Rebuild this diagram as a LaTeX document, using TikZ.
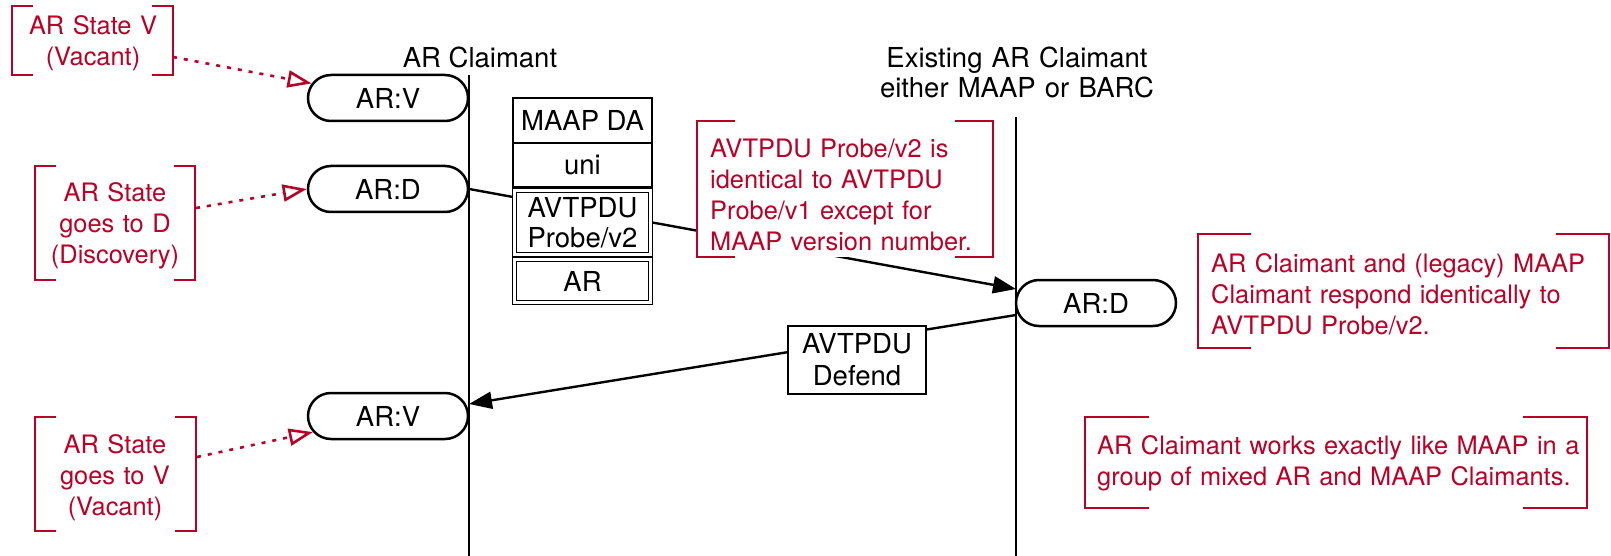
\documentclass[tikz,border=0pt]{standalone}
\usepackage{fontspec}
\setmainfont{TeX Gyre Heros}
\usetikzlibrary{arrows.meta,shapes.misc}
\definecolor{arred}{RGB}{185,0,38}
\newcommand\bfnt{\fontsize{27.5}{30}\selectfont}
\newcommand\dfnt{\fontsize{27.5}{32}\selectfont}
\newcommand\rfnt{\fontsize{25.4}{31}\selectfont}
\newcommand\drawbrk[2]{%
  \draw[brk] ([xshift=#2]#1.north west) -- (#1.north west) -- (#1.south west) -- ([xshift=#2]#1.south west);
  \draw[brk] ([xshift=-#2]#1.north east) -- (#1.north east) -- (#1.south east) -- ([xshift=-#2]#1.south east);}
\tikzset{
  lifeline/.style={line width=2.6pt},
  state/.style={rounded rectangle, draw, line width=2.5pt, fill=white, minimum width=160pt, minimum height=46pt, inner sep=0pt, font=\bfnt},
  pkt/.style={draw, line width=2.4pt, fill=white, minimum width=139pt, inner sep=0pt, font=\bfnt, align=center},
  pktd/.style={draw, double, double distance=2.3pt, line width=1.3pt, fill=white, minimum width=136pt, inner sep=0pt, font=\bfnt, align=center},
  msg/.style={line width=2.4pt, -{Triangle[length=23pt,width=17pt]}},
  noteframe/.style={fill=white, inner sep=0pt, outer sep=0pt},
  brk/.style={draw=arred, line width=2.4pt},
  notetext/.style={text=arred, font=\rfnt, inner sep=0pt},
  hint/.style={draw=arred, line width=2.6pt, dash pattern=on 4pt off 7pt, -{Triangle[open,length=24pt,width=17pt,fill=white]}},
  head/.style={font=\bfnt, inner sep=0pt}
}
\begin{document}
\begin{tikzpicture}[x=1pt,y=-1pt]
\useasboundingbox (0,0) rectangle (1611,556);
\fill[white] (0,0) rectangle (1611,556);
% headers
\node[head, anchor=base] (h1) at (480,68) {AR Claimant};
\node[head, anchor=base, text width=320pt, align=center] (h2) at (1017,68) {Existing AR Claimant\\either MAAP or BARC};
% lifelines
\coordinate (L1t) at (469,75);
\coordinate (L1b) at (469,556);
\coordinate (L2t) at (1016,117);
\coordinate (L2b) at (1016,556);
\draw[lifeline] (L1t) -- (L1b);
\draw[lifeline] (L2t) -- (L2b);
% states
\node[state] (ARV1) at (388,98) {AR:V};
\node[state] (ARD1) at (388,189) {AR:D};
\node[state] (ARV2) at (388,416) {AR:V};
\node[state] (ARD2) at (1096,303) {AR:D};
% messages
\coordinate (pe) at (1016,289);
\coordinate (ds) at (1016,315);
\coordinate (de) at (469,404);
\draw[msg] (ARD1.east) -- (pe);
\draw[msg] (ds) -- (de);
% packet stack
\node[pkt, minimum height=45pt] (maapda) at (582.5,120.5) {MAAP DA};
\node[pkt, minimum height=44pt] (uni) at (582.5,165) {uni};
\node[pktd, minimum height=64pt] (probe) at (582.5,222.5) {AVTPDU\\Probe/v2};
\node[pktd, minimum height=43pt] (arpkt) at (582.5,281) {AR};
% defend box
\node[pkt, minimum width=138pt, minimum height=68pt, font=\dfnt] (defend) at (857,360) {AVTPDU\\Defend};
% note frames
\node[noteframe, minimum width=161pt, minimum height=69pt] (f1) at (92.5,40.5) {};
\node[noteframe, minimum width=160pt, minimum height=114pt] (f2) at (115,223) {};
\node[noteframe, minimum width=161pt, minimum height=114pt] (f3) at (115.5,474) {};
\node[noteframe, minimum width=296pt, minimum height=136pt] (f4) at (845,189) {};
\node[noteframe, minimum width=411pt, minimum height=114pt] (f5) at (1403.5,291) {};
\node[noteframe, minimum width=502pt, minimum height=91pt] (f6) at (1336,462.5) {};
\drawbrk{f1}{21}
\drawbrk{f2}{21}
\drawbrk{f3}{21}
\drawbrk{f4}{38}
\drawbrk{f5}{53}
\drawbrk{f6}{64}
% note texts
\node[notetext, anchor=base, text width=160pt, align=center] (t1) at (93,35) {AR State V\\(Vacant)};
\node[notetext, anchor=base, text width=160pt, align=center] (t2) at (115,202) {AR State\\goes to D\\(Discovery)};
\node[notetext, anchor=base, text width=160pt, align=center] (t3) at (115,453) {AR State\\goes to V\\(Vacant)};
\node[notetext, anchor=base west, text width=280pt, align=left] (t4) at (710,158) {AVTPDU Probe/v2 is\\identical to AVTPDU\\Probe/v1 except for\\MAAP version number.};
\node[notetext, anchor=base west, text width=395pt, align=left] (t5) at (1211,272) {AR Claimant and (legacy) MAAP\\Claimant respond identically to\\AVTPDU Probe/v2.};
\node[notetext, anchor=base west, text width=485pt, align=left] (t6) at (1097,454) {AR Claimant works exactly like MAAP in a\\group of mixed AR and MAAP Claimants.};
% hint arrows
\coordinate (a1s) at (173,57);
\coordinate (a2s) at (196,208);
\coordinate (a3s) at (197,457);
\draw[hint] (a1s) -- (ARV1);
\draw[hint] (a2s) -- (ARD1.west);
\draw[hint] (a3s) -- (ARV2);
\end{tikzpicture}
\end{document}
